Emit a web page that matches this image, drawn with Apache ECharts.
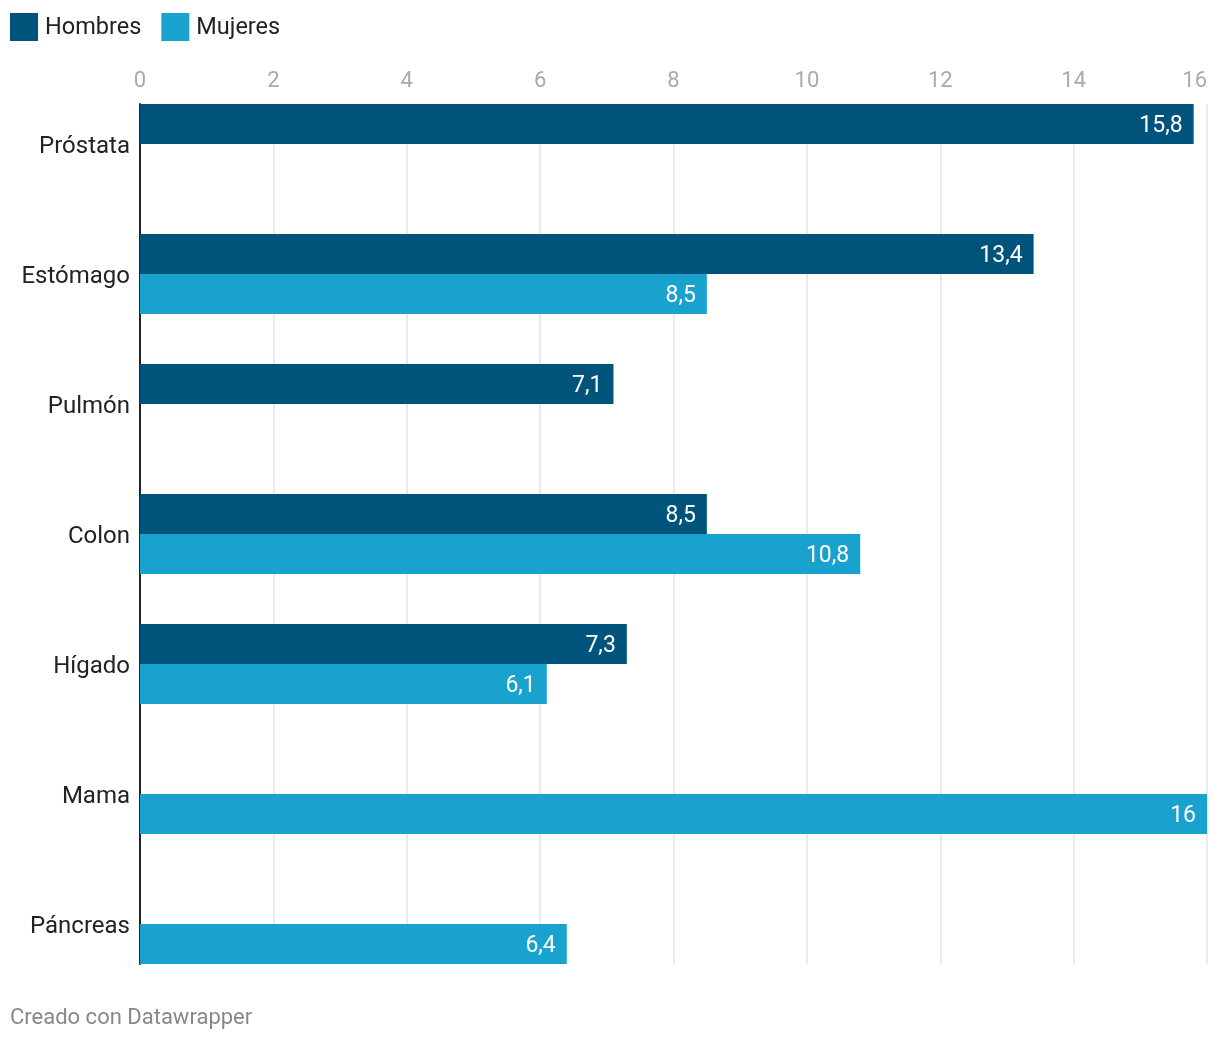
<!DOCTYPE html>
<html>
<head>
<meta charset="utf-8">
<script src="https://cdn.jsdelivr.net/npm/echarts@6/dist/echarts.min.js"></script>
<style>
html,body{margin:0;padding:0;background:#fff;}
#chart{width:1220px;height:1042px;}
</style>
</head>
<body>
<div id="chart"></div>
<script>
const categories = ['Próstata', 'Estómago', 'Pulmón', 'Colon', 'Hígado', 'Mama', 'Páncreas'];
const hombres = [15.8, 13.4, 7.1, 8.5, 7.3, null, null];
const mujeres = [null, 8.5, null, 10.8, 6.1, 16, 6.4];
const seriesNames = ['Hombres', 'Mujeres'];
const xTicks = { min: 0, max: 16, interval: 2 };

const chart = echarts.init(document.getElementById('chart'));
const fmt = p => (p.value == null ? '' : String(p.value).replace('.', ','));
const labelStyle = {
  show: true, position: 'insideRight', distance: 11, offset: [0, 2],
  color: '#fff', fontSize: 23, fontFamily: 'Roboto', formatter: fmt
};

chart.setOption({
  animation: false,
  textStyle: { fontFamily: 'Roboto' },
  legend: {
    data: seriesNames, left: 10, top: 13, padding: 0, icon: 'rect',
    itemWidth: 28, itemHeight: 28, itemGap: 20,
    formatter: n => '{t|' + n + '}',
    textStyle: {
      fontSize: 23.5, color: '#222', fontFamily: 'Roboto', padding: [0, 0, 0, 2],
      rich: { t: { fontSize: 23.5, color: '#222', fontFamily: 'Roboto', padding: [2, 0, 0, 0] } }
    }
  },
  grid: [
    { left: 140, right: 13, top: 79, height: 910 },
    { left: 140, right: 13, top: 104, height: 860 }
  ],
  xAxis: [
    { gridIndex: 0, type: 'value', min: xTicks.min, max: xTicks.max, show: false },
    {
      gridIndex: 1, type: 'value', position: 'top',
      min: xTicks.min, max: xTicks.max, interval: xTicks.interval,
      axisLine: { show: false }, axisTick: { show: false },
      axisLabel: { color: '#aaa', fontSize: 22, margin: 12, alignMaxLabel: 'right', fontFamily: 'Roboto' },
      splitLine: { show: true, lineStyle: { color: '#e3e3e3', width: 1.5 } }
    }
  ],
  yAxis: [
    {
      gridIndex: 0, type: 'category', data: categories, inverse: true,
      axisLine: { show: false }, axisTick: { show: false },
      axisLabel: {
        margin: 10, formatter: v => '{c|' + v + '}',
        rich: { c: { color: '#222', fontSize: 24, fontFamily: 'Roboto', padding: [5, 0, 0, 0] } }
      }
    },
    {
      gridIndex: 1, type: 'value', min: 0, max: 1,
      axisLine: { show: true, onZero: false, lineStyle: { color: '#222', width: 2 } },
      axisTick: { show: false }, axisLabel: { show: false }, splitLine: { show: false }
    }
  ],
  series: [
    {
      name: seriesNames[0], type: 'bar', xAxisIndex: 0, yAxisIndex: 0,
      data: hombres, barWidth: 40, barGap: '0%',
      itemStyle: { color: '#00547b' }, label: labelStyle, z: 3
    },
    {
      name: seriesNames[1], type: 'bar', xAxisIndex: 0, yAxisIndex: 0,
      data: mujeres, barWidth: 40, barGap: '0%',
      itemStyle: { color: '#19a2ce' }, label: labelStyle, z: 3
    }
  ],
  graphic: [
    {
      type: 'text', left: 10, top: 1007,
      style: { text: 'Creado con Datawrapper', fill: '#888', fontSize: 22, fontFamily: 'Roboto' }
    }
  ]
});
</script>
</body>
</html>
